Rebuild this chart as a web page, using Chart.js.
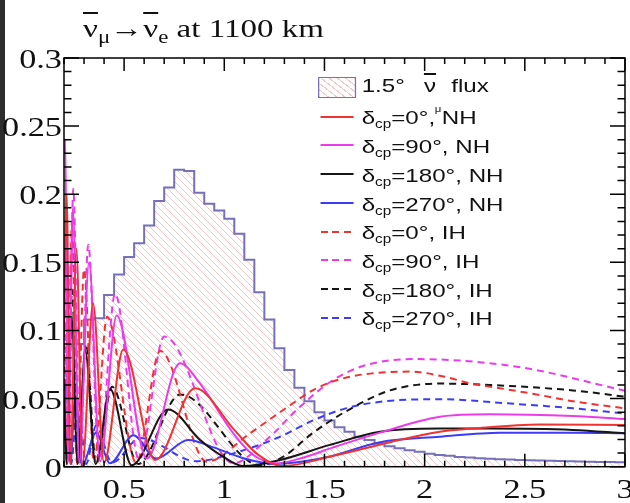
<!DOCTYPE html>
<html lang="en">
<head>
<meta charset="utf-8">
<title>anti-nu_mu to anti-nu_e at 1100 km</title>
<script src="https://cdn.jsdelivr.net/npm/chart.js@4.4.1/dist/chart.umd.min.js"></script>
<style>
    html, body { margin: 0; padding: 0; background: #fff; }
    #wrap { position: relative; width: 630px; height: 503px; overflow: hidden; background: #fff; }
    #edge { position: absolute; left: 0; top: 0; width: 5px; height: 503px; background: #2d2d2d; }
    canvas { position: absolute; left: 0; top: 0; }
    .stretch { position: absolute; transform: scaleX(1.27); transform-origin: 0 0; white-space: nowrap; color: #111; }
    #title { left: 83px; top: 16px; font: 26px "Liberation Serif", serif; line-height: 26px; }
    #title .sub { position: relative; top: 6px; font-size: 18px; }
    .bar { text-decoration: overline; text-decoration-thickness: 2px; }
    #legend { left: 318px; top: 0; width: 200px; height: 340px; font: 19px "Liberation Sans", Arial, sans-serif; }
    #legend .row { position: absolute; left: 0; height: 20px; width: 200px; }
    #legend .sample { position: absolute; left: 1.5px; top: 9px; width: 26px; height: 2px; }
    #legend .txt { position: absolute; left: 34.4px; top: 1.8px; line-height: 20px; }
    #legend .cp { position: relative; top: 4px; font-size: 12px; }
    #legend .fluxbox { position: absolute; left: 0; top: 77px; width: 28px; height: 19px;
        border: 1.5px solid #7670bc;
        background: repeating-linear-gradient(45deg, rgba(238,150,150,0.55) 0 1px, transparent 1px 4.6px); }
    #legend .stray { position: absolute; left: 92px; top: 105px; font-size: 9px; line-height: 9px; }
</style>
</head>
<body>
<div id="wrap">
    <div id="edge"></div>
    <canvas id="oscChart" width="630" height="503"></canvas>
    <div id="title" class="stretch"><span class="bar">ν</span><span class="sub">μ</span>→<span class="bar">ν</span><span class="sub">e</span> at 1100 km</div>
    <div id="legend" class="stretch"></div>
</div>
<script>
//Flux-histogram: vänsterkanter (bin 0.05 GeV) och höjder.
const fluxBinEdges = [0.20, 0.25, 0.30, 0.35, 0.40, 0.45, 0.50, 0.55, 0.60, 0.65,
    0.70, 0.75, 0.80, 0.85, 0.90, 0.95, 1.00, 1.05, 1.10, 1.15,
    1.20, 1.25, 1.30, 1.35, 1.40, 1.45, 1.50, 1.55, 1.60, 1.65,
    1.70, 1.75, 1.80, 1.85, 1.90, 1.95, 2.00, 2.05, 2.10, 2.15,
    2.20, 2.25, 2.30, 2.35, 2.40, 2.45, 2.50, 2.55, 2.60, 2.65,
    2.70, 2.75, 2.80, 2.85, 2.90, 2.95, 3.00];
const fluxValues = [0.050, 0.090, 0.108, 0.109, 0.126, 0.141, 0.154, 0.164, 0.177, 0.195,
    0.205, 0.218, 0.217, 0.201, 0.193, 0.188, 0.182, 0.171, 0.152, 0.128,
    0.108, 0.087, 0.071, 0.058, 0.048, 0.040, 0.034, 0.029, 0.0257, 0.022,
    0.0196, 0.017, 0.015, 0.0135, 0.012, 0.011, 0.0095, 0.0086, 0.008, 0.0072,
    0.0068, 0.0062, 0.0058, 0.0055, 0.0052, 0.0049, 0.0047, 0.0045, 0.0043, 0.0041,
    0.0040, 0.0038, 0.0036, 0.0035, 0.0034, 0.0033];

//Sannolikheter, avlästa punkter (energi i GeV, sannolikhet).
const nh0E = [0.200, 0.213, 0.232, 0.262, 0.292, 0.345, 0.400, 0.496, 0.655, 0.854, 1.050, 1.160, 1.290, 1.527, 1.827, 2.076, 2.240, 2.575, 3.000];
const nh0P = [0.100, 0.200, 0.002, 0.160, 0.002, 0.120, 0.003, 0.086, 0.005, 0.0575, 0.027, 0.0098, 0.0005, 0.0073, 0.018, 0.0257, 0.028, 0.031, 0.0306];

const nh90E = [0.200, 0.207, 0.219, 0.244, 0.276, 0.325, 0.380, 0.463, 0.613, 0.779, 0.879, 1.045, 1.145, 1.260, 1.400, 1.540, 1.777, 2.076, 2.325, 2.740, 3.000];
const nh90P = [0.230, 0.240, 0.003, 0.190, 0.003, 0.150, 0.004, 0.111, 0.006, 0.076, 0.061, 0.0245, 0.0086, 0.0025, 0.007, 0.014, 0.025, 0.0367, 0.0385, 0.0372, 0.035];

const nh180E = [0.200, 0.214, 0.238, 0.268, 0.306, 0.358, 0.430, 0.538, 0.720, 0.879, 0.995, 1.095, 1.278, 1.527, 1.777, 2.076, 2.325, 2.740, 3.000];
const nh180P = [0.050, 0.002, 0.110, 0.002, 0.085, 0.002, 0.057, 0.001, 0.042, 0.0196, 0.0073, 0.0005, 0.0049, 0.016, 0.0257, 0.028, 0.028, 0.027, 0.0245];

const nh270E = [0.200, 0.213, 0.232, 0.255, 0.290, 0.360, 0.430, 0.546, 0.660, 0.820, 0.950, 1.100, 1.250, 1.400, 1.527, 1.777, 2.076, 2.376, 2.740, 3.000];
const nh270P = [0.030, 0.065, 0.002, 0.050, 0.001, 0.025, 0.0025, 0.023, 0.006, 0.0196, 0.014, 0.006, 0.002, 0.004, 0.0075, 0.018, 0.022, 0.025, 0.025, 0.0245];

const ih0E = [0.200, 0.215, 0.240, 0.265, 0.300, 0.350, 0.415, 0.560, 0.680, 0.912, 1.128, 1.294, 1.461, 1.627, 1.930, 2.100, 2.230, 2.376, 2.575, 2.740, 3.000];
const ih0P = [0.100, 0.002, 0.180, 0.002, 0.145, 0.003, 0.110, 0.003, 0.085, 0.0037, 0.0245, 0.0416, 0.0576, 0.066, 0.0698, 0.066, 0.061, 0.0576, 0.0526, 0.048, 0.0429];

const ih90E = [0.200, 0.222, 0.246, 0.280, 0.321, 0.375, 0.455, 0.575, 0.700, 1.045, 1.210, 1.378, 1.544, 1.710, 1.960, 2.460, 3.000];
const ih90P = [0.150, 0.003, 0.204, 0.003, 0.163, 0.004, 0.127, 0.005, 0.0955, 0.0025, 0.0196, 0.044, 0.0637, 0.0747, 0.079, 0.0734, 0.0558];

const ih180E = [0.200, 0.215, 0.240, 0.270, 0.310, 0.360, 0.440, 0.570, 0.780, 1.180, 1.294, 1.444, 1.600, 1.827, 2.076, 2.325, 2.740, 3.000];
const ih180P = [0.060, 0.002, 0.130, 0.002, 0.090, 0.002, 0.0587, 0.002, 0.053, 0.001, 0.0073, 0.025, 0.040, 0.056, 0.061, 0.060, 0.056, 0.0514];

const ih270E = [0.200, 0.215, 0.235, 0.270, 0.310, 0.360, 0.440, 0.580, 0.860, 1.045, 1.278, 1.444, 1.610, 1.800, 2.076, 2.410, 2.740, 3.000];
const ih270P = [0.020, 0.060, 0.002, 0.050, 0.002, 0.030, 0.003, 0.021, 0.004, 0.0098, 0.022, 0.034, 0.043, 0.048, 0.0495, 0.0465, 0.0429, 0.039];

//Serier: δcp, hierarki, färg och linjetyp.
const seriesDelta = [0, 90, 180, 270, 0, 90, 180, 270];
const seriesHierarchy = ["NH", "NH", "NH", "NH", "IH", "IH", "IH", "IH"];
const seriesColors = ["#f03232", "#ea3cea", "#161616", "#3c3cf8", "#f03232", "#ea3cea", "#161616", "#3c3cf8"];
const seriesDashed = [false, false, false, false, true, true, true, true];
const seriesEnergy = [nh0E, nh90E, nh180E, nh270E, ih0E, ih90E, ih180E, ih270E];
const seriesProb = [nh0P, nh90P, nh180P, nh270P, ih0P, ih90P, ih180P, ih270P];

//Axlar.
const xRange = [0.2, 3];
const yRange = [0, 0.3];
const xTickValues = [0.5, 1, 1.5, 2, 2.5, 3];
const xTickLabels = ["0.5", "1", "1.5", "2", "2.5", "3"];
const yTickValues = [0, 0.05, 0.1, 0.15, 0.2, 0.25, 0.3];
const yTickLabels = ["0", "0.05", "0.1", "0.15", "0.2", "0.25", "0.3"];

const STRETCH = 1.27;

/**Skapar ett glest snedstreckat mönster för flödet. */
function hatchPattern() {
    const c = document.createElement("canvas");
    c.width = 7;
    c.height = 7;
    const g = c.getContext("2d");
    g.strokeStyle = "rgba(236,140,140,0.5)";
    g.lineWidth = 1;
    for (const o of [-7, 0, 7]) {
        g.beginPath();
        g.moveTo(o, 0);
        g.lineTo(o + 7, 7);
        g.stroke();
    }
    return g.createPattern(c, "repeat");
}

/**Ritar ram, inåtriktade streck och axeltexter i ROOT-stil. */
const rootFrame = {
    id: "rootFrame",
    afterDatasetsDraw(chart) {
        const { ctx, chartArea: a, scales: { x, y } } = chart;
        ctx.save();
        ctx.strokeStyle = "#000";
        ctx.lineWidth = 1.5;
        ctx.beginPath();
        for (let i = Math.round(x.min * 10); i <= Math.round(x.max * 10); i++) {
            const px = x.getPixelForValue(i / 10);
            const len = i % 5 === 0 ? 13 : 6;
            ctx.moveTo(px, a.bottom);
            ctx.lineTo(px, a.bottom - len);
            ctx.moveTo(px, a.top);
            ctx.lineTo(px, a.top + len);
        }
        for (let j = Math.round(y.min * 100); j <= Math.round(y.max * 100); j++) {
            const py = y.getPixelForValue(j / 100);
            const len = j % 5 === 0 ? 15 : 7.5;
            ctx.moveTo(a.left, py);
            ctx.lineTo(a.left + len, py);
            ctx.moveTo(a.right, py);
            ctx.lineTo(a.right - len, py);
        }
        ctx.stroke();
        ctx.strokeRect(a.left, a.top, a.right - a.left, a.bottom - a.top);

        ctx.fillStyle = "#111";
        ctx.font = '27px "Liberation Serif", serif';
        ctx.textBaseline = "alphabetic";
        ctx.textAlign = "center";
        xTickValues.forEach((v, i) => {
            ctx.save();
            ctx.translate(x.getPixelForValue(v), 498);
            ctx.scale(STRETCH, 1);
            ctx.fillText(xTickLabels[i], 0, 0);
            ctx.restore();
        });
        ctx.textAlign = "right";
        yTickValues.forEach((v, i) => {
            ctx.save();
            ctx.translate(a.left - 2, y.getPixelForValue(v) + 10);
            ctx.scale(STRETCH, 1);
            ctx.fillText(yTickLabels[i], 0, 0);
            ctx.restore();
        });
        ctx.restore();
    }
};

/**Bygger legenden som HTML (δ med nedsänkt cp). */
function buildLegend() {
    const el = document.getElementById("legend");
    const firstLineY = 116.7;
    const rowStep = 28.71;

    const box = document.createElement("div");
    box.className = "fluxbox";
    el.appendChild(box);
    const fluxRow = document.createElement("div");
    fluxRow.className = "row";
    fluxRow.style.top = "74.6px";
    fluxRow.innerHTML = '<span class="txt">1.5°<span class="bar" style="margin-left:15px;text-decoration-thickness:1.5px">ν</span><span style="margin-left:12px">flux</span></span>';
    el.appendChild(fluxRow);

    seriesDelta.forEach((d, i) => {
        const row = document.createElement("div");
        row.className = "row";
        row.style.top = (firstLineY + i * rowStep - 10) + "px";
        const c = seriesColors[i];
        const bg = seriesDashed[i]
            ? `repeating-linear-gradient(90deg, ${c} 0 5.5px, transparent 5.5px 9.4px)`
            : c;
        row.innerHTML = `<span class="sample" style="background:${bg}"></span>` +
            `<span class="txt">δ<span class="cp">cp</span>=${d}°, ${seriesHierarchy[i]}</span>`;
        el.appendChild(row);
    });

    const stray = document.createElement("span");
    stray.className = "stray";
    stray.textContent = "μ";
    el.appendChild(stray);
}

/**Skapar diagrammet. */
function createChart() {
    const ctx = document.getElementById("oscChart");

    const curveSets = seriesProb.map((prob, i) => ({
        label: `δcp=${seriesDelta[i]}°, ${seriesHierarchy[i]}`,
        data: seriesEnergy[i].map((e, k) => ({ x: e, y: prob[k] })),
        borderColor: seriesColors[i],
        borderWidth: 2,
        borderDash: seriesDashed[i] ? [7, 5] : [],
        cubicInterpolationMode: "monotone",
        pointRadius: 0,
        fill: false,
        order: i
    }));

    const fluxSet = {
        label: "1.5° ν̄ flux",
        data: fluxBinEdges.map((e, k) => ({ x: e, y: fluxValues[Math.min(k, fluxValues.length - 1)] })),
        stepped: "before",
        borderColor: "#7670bc",
        borderWidth: 2,
        backgroundColor: hatchPattern(),
        fill: "origin",
        pointRadius: 0,
        order: 20
    };

    new Chart(ctx, {
        type: "line",
        data: { datasets: [...curveSets, fluxSet] },
        options: {
            responsive: false,
            animation: false,
            layout: { padding: { top: 58, right: 5, left: 0, bottom: 0 } },
            plugins: {
                legend: { display: false },
                title: { display: false },
                tooltip: { enabled: false }
            },
            scales: {
                x: {
                    type: "linear", min: xRange[0], max: xRange[1],
                    grid: { display: false }, border: { display: false },
                    ticks: { display: false },
                    afterFit(s) { s.height = 36.3; }
                },
                y: {
                    min: yRange[0], max: yRange[1],
                    grid: { display: false }, border: { display: false },
                    ticks: { display: false },
                    afterFit(s) { s.width = 64; }
                }
            }
        },
        plugins: [rootFrame]
    });
}

buildLegend();
createChart();
</script>
</body>
</html>
